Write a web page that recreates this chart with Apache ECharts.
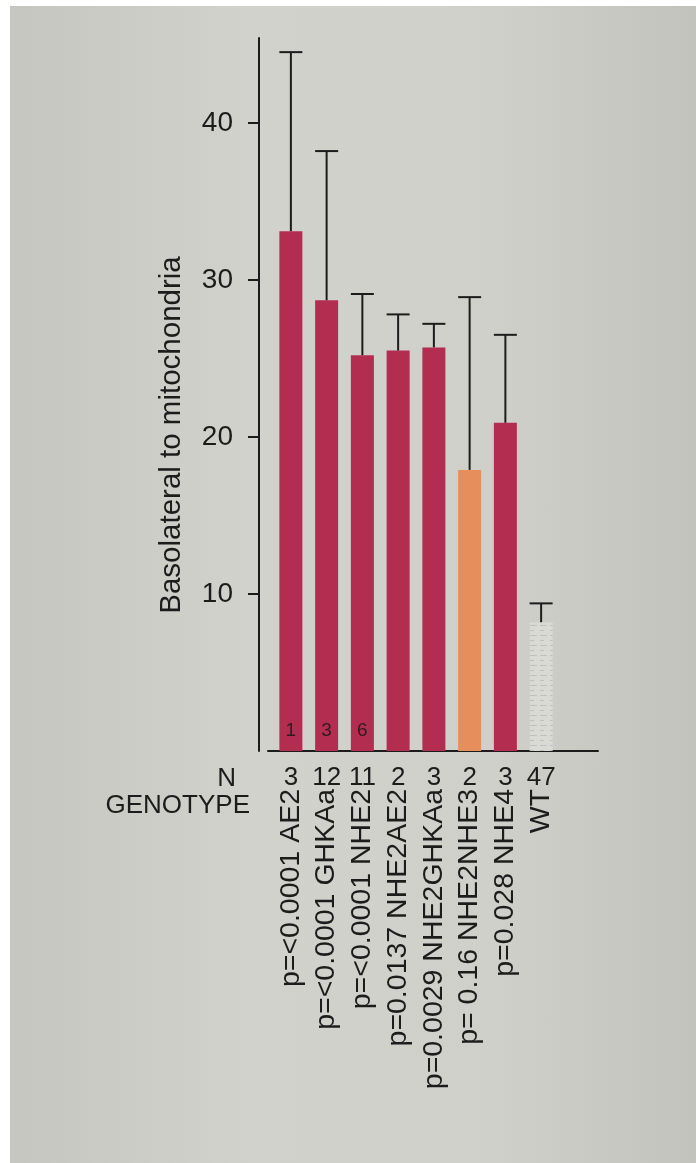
<!DOCTYPE html>
<html>
<head>
<meta charset="utf-8">
<script src="https://cdn.jsdelivr.net/npm/echarts@6/dist/echarts.min.js"></script>
<style>
  html, body { margin: 0; padding: 0; background: #ffffff; }
  #paper {
    position: absolute; left: 10px; top: 6px; right: 0; bottom: 0;
    background: linear-gradient(to right, #c6c6c1 0%, #d2d2cd 35%, #d0d0cb 70%, #c3c3bd 100%);
  }
  #chart { position: absolute; left: 0; top: 0; width: 696px; height: 1163px; }
</style>
</head>
<body>
<div id="paper"></div>
<div id="chart"></div>
<script>
// Genotype groups, sample counts and measured ratio (mean and upper error limit)
const genotypes = ['p=<0.0001 AE2', 'p=<0.0001 GHKAa', 'p=<0.0001 NHE2', 'p=0.0137 NHE2AE2',
                   'p=0.0029 NHE2GHKAa', 'p= 0.16 NHE2NHE3', 'p=0.028 NHE4', 'WT'];
const nCounts = ['3', '12', '11', '2', '3', '2', '3', '47'];
const barNotes = ['1', '3', '6', '', '', '', '', ''];
const means = [33.1, 28.7, 25.2, 25.5, 25.7, 17.9, 20.9, 8.2];
const upper = [44.5, 38.2, 29.1, 27.8, 27.2, 28.9, 26.5, 9.4];
const yTicks = [10, 20, 30, 40];

const FONT = '"Liberation Sans", Arial, sans-serif';
const INK = '#1c1c1c';
const CRIMSON = '#b22d50';
const ORANGE = '#e68f5c';
const PALE = '#d9d9d5';

const barColors = genotypes.map((g, i) => i === 5 ? ORANGE : (g === 'WT' ? PALE : CRIMSON));

const chart = echarts.init(document.getElementById('chart'), null, { renderer: 'canvas' });

const gridTop = 38, gridBottom = 412;

const option = {
  backgroundColor: 'transparent',
  animation: false,
  textStyle: { fontFamily: FONT },
  grid: [
    { left: 273, right: 137, top: gridTop, bottom: gridBottom },
    { left: 268, right: 98, top: gridTop, bottom: gridBottom }
  ],
  xAxis: [
    {
      type: 'category', gridIndex: 0, data: nCounts,
      axisLine: { show: false }, axisTick: { show: false },
      axisLabel: { interval: 0, margin: 14, fontSize: 26, color: INK, fontFamily: FONT }
    },
    {
      type: 'category', gridIndex: 0, data: genotypes, position: 'bottom',
      axisLine: { show: false }, axisTick: { show: false },
      axisLabel: { interval: 0, rotate: 90, margin: 38, fontSize: 28.5, color: INK, fontFamily: FONT }
    },
    {
      type: 'value', gridIndex: 1, min: 0, max: 1,
      axisLine: { show: true, lineStyle: { color: INK, width: 2 } },
      axisTick: { show: false }, axisLabel: { show: false }, splitLine: { show: false }
    }
  ],
  yAxis: [
    {
      type: 'value', gridIndex: 0, min: 0, max: 45.4, offset: 14,
      axisLine: { show: true, lineStyle: { color: INK, width: 2 } },
      axisTick: { show: true, length: 11, lineStyle: { color: INK, width: 2 }, customValues: yTicks },
      axisLabel: { fontSize: 28, color: INK, margin: 26, fontFamily: FONT, customValues: yTicks },
      splitLine: { show: false }
    },
    {
      type: 'value', gridIndex: 1, show: false, min: 0, max: 1
    }
  ],
  series: [
    {
      type: 'bar', xAxisIndex: 0, yAxisIndex: 0, barWidth: 23,
      data: means.map((v, i) => ({
        value: v,
        itemStyle: {
          color: barColors[i],
          decal: genotypes[i] === 'WT' ? {
            symbol: 'rect', symbolSize: 1, color: 'rgba(130,130,130,0.28)',
            dashArrayX: [[7, 3], [4, 6]], dashArrayY: [1, 4], rotation: 0
          } : null
        }
      })),
      label: {
        show: true, position: 'insideBottom', distance: 11,
        fontSize: 19, color: '#321a1f', fontFamily: FONT,
        formatter: p => barNotes[p.dataIndex]
      }
    },
    {
      type: 'custom', xAxisIndex: 0, yAxisIndex: 0,
      data: means.map((m, i) => [i, m, upper[i]]),
      encode: { x: 0, y: [1, 2] },
      renderItem: (params, api) => {
        const base = api.coord([api.value(0), api.value(1)]);
        const top = api.coord([api.value(0), api.value(2)]);
        const half = 11.5;
        const style = { stroke: INK, lineWidth: 2 };
        return {
          type: 'group',
          children: [
            { type: 'line', shape: { x1: base[0], y1: base[1], x2: top[0], y2: top[1] }, style },
            { type: 'line', shape: { x1: top[0] - half, y1: top[1], x2: top[0] + half, y2: top[1] }, style }
          ]
        };
      },
      z: 3
    }
  ],
  graphic: [
    {
      type: 'text', x: 172, y: 435, rotation: Math.PI / 2,
      style: { text: 'Basolateral to mitochondria', fill: INK, font: '29.5px ' + FONT,
               textAlign: 'center', textVerticalAlign: 'middle' }
    },
    {
      type: 'text', x: 236, y: 779,
      style: { text: 'N', fill: INK, font: '26px ' + FONT, textAlign: 'right', textVerticalAlign: 'middle' }
    },
    {
      type: 'text', x: 250, y: 806,
      style: { text: 'GENOTYPE', fill: INK, font: '26px ' + FONT, textAlign: 'right', textVerticalAlign: 'middle' }
    }
  ]
};

chart.setOption(option);
</script>
</body>
</html>
